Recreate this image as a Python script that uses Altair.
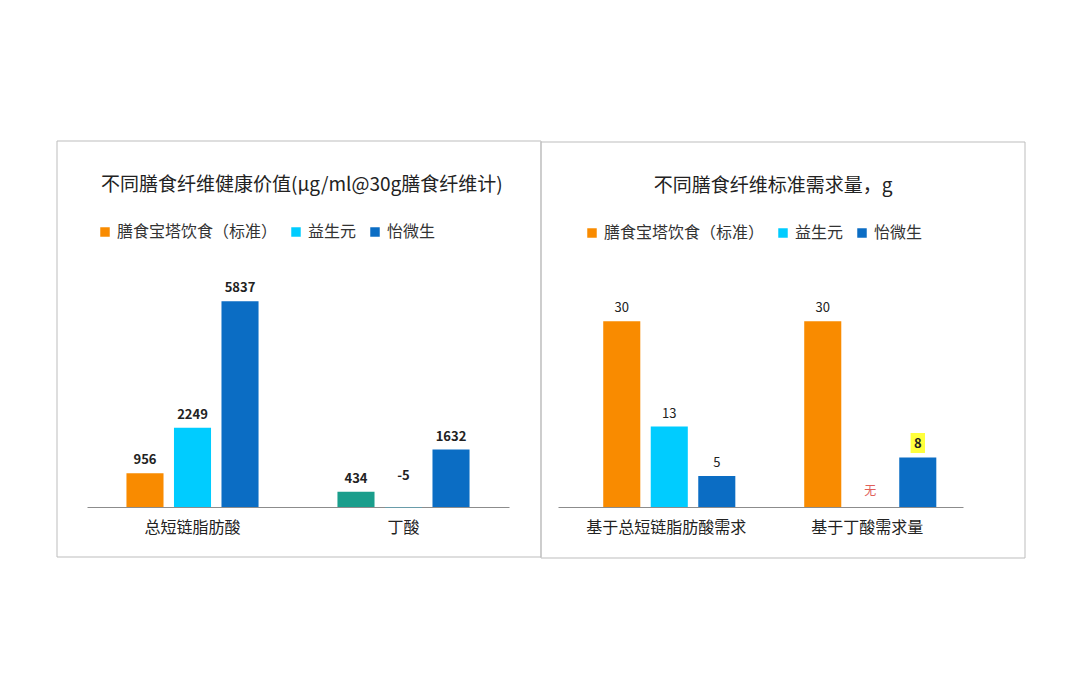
import pandas as pd
import altair as alt

FONT = 'Noto Sans CJK SC'

# series shared by both panels
series = ['膳食宝塔饮食（标准）', '益生元', '怡微生']
series_colors = ['#F98B00', '#00CCFF', '#0B6DC4']
teal_key = '丁酸（标准）'
teal = '#1A9E8C'

# left panel
left_title = '不同膳食纤维健康价值(μg/ml@30g膳食纤维计)'
left_groups = ['总短链脂肪酸', '丁酸']
left_values = [956, 2249, 5837, 434, -5, 1632]
left_labels = ['956', '2249', '5837', '434', '-5', '1632']
left_fill = ['膳食宝塔饮食（标准）', '益生元', '怡微生', teal_key, '益生元', '怡微生']

# right panel
right_title = '不同膳食纤维标准需求量，g'
right_groups = ['基于总短链脂肪酸需求', '基于丁酸需求量']
right_values = [30, 13, 5, 30, None, 8]
right_labels = ['30', '13', '5', '30', '无', '8']
right_fill = ['膳食宝塔饮食（标准）', '益生元', '怡微生', '膳食宝塔饮食（标准）', '益生元', '怡微生']
right_highlight = [False, False, False, False, False, True]


def make_df(groups, values, labels, fill, highlight=None):
    df = pd.DataFrame({
        'group': [g for g in groups for _ in series],
        'series': series * len(groups),
        'value': values,
        'label': labels,
        'fill': fill,
    })
    df['hl'] = highlight if highlight is not None else [False] * len(df)
    return df


def panel(df, groups, title, y_max, width, height, box, title_kw, legend_xy,
          label_weight, x_scale):
    x = alt.X('group:N', sort=groups, scale=x_scale,
              axis=alt.Axis(title=None, ticks=False, labelAngle=0, labelFontSize=16,
                            labelFont=FONT, labelColor='#222', labelPadding=12,
                            domainColor='#8C8C8C', domainWidth=1))
    xo = alt.XOffset('series:N', sort=series,
                     scale=alt.Scale(paddingInner=0.22, paddingOuter=0))
    y_scale = alt.Scale(domain=[0, y_max])
    ly = alt.Y('ly:Q', scale=y_scale, axis=None)

    base = alt.Chart(df).transform_calculate(
        ly='datum.value == null ? 0 : max(datum.value, 0)'
    )

    # panel frame
    border = alt.Chart(pd.DataFrame({'k': [0]})).mark_rect(
        filled=False, stroke='#BDBDBD', strokeWidth=1
    ).encode(x=alt.value(box[0]), x2=alt.value(box[1]),
             y=alt.value(box[2]), y2=alt.value(box[3]))

    bars = base.mark_bar().encode(
        x=x, xOffset=xo,
        y=alt.Y('value:Q', scale=y_scale, axis=None),
        color=alt.Color('fill:N',
                        scale=alt.Scale(domain=series + [teal_key], range=series_colors + [teal]),
                        legend=alt.Legend(values=series, title=None, orient='none',
                                          legendX=legend_xy[0], legendY=legend_xy[1],
                                          direction='horizontal', columns=3,
                                          symbolType='square', symbolSize=90,
                                          symbolStrokeWidth=0, labelFontSize=16,
                                          labelFont=FONT, labelColor='#333', labelLimit=0,
                                          labelOffset=4, columnPadding=10))
    )

    box_mark = base.transform_filter('datum.hl').mark_point(
        shape='M-0.72,-1H0.72V1H-0.72Z', size=400, filled=True,
        color='#FFFF3C', opacity=1, yOffset=-14.5
    ).encode(x=x, xOffset=xo, y=ly)

    labels = base.transform_filter('datum.value != null && datum.value >= 0 && !datum.hl').mark_text(
        baseline='bottom', dy=-6, fontSize=13, font=FONT, color='#222', fontWeight=label_weight
    ).encode(x=x, xOffset=xo, y=ly, text='label:N')

    hl_labels = base.transform_filter('datum.hl').mark_text(
        baseline='bottom', dy=-6, fontSize=13, font=FONT, color='#222', fontWeight='bold'
    ).encode(x=x, xOffset=xo, y=ly, text='label:N')

    neg_labels = base.transform_filter('datum.value != null && datum.value < 0').mark_text(
        baseline='bottom', dy=-24, fontSize=13, font=FONT, color='#222', fontWeight='bold'
    ).encode(x=x, xOffset=xo, y=ly, text='label:N')

    missing = base.transform_filter('datum.value == null').mark_text(
        baseline='bottom', dy=-9, fontSize=12, font=FONT, color='#E0605A'
    ).encode(x=x, xOffset=xo, y=ly, text='label:N')

    return alt.layer(border, bars, box_mark, labels, hl_labels, neg_labels, missing).properties(
        width=width, height=height,
        title=alt.TitleParams(title, fontSize=19, font=FONT, fontWeight='normal',
                              color='#222', frame='group', baseline='middle', **title_kw)
    )


df_left = make_df(left_groups, left_values, left_labels, left_fill)
df_right = make_df(right_groups, right_values, right_labels, right_fill, right_highlight)

left = panel(df_left, left_groups, left_title, 6500, 422, 229,
             box=(-30, 454, -137, 279),
             title_kw=dict(anchor='start', dx=14, offset=-63),
             legend_xy=(10, -54), label_weight='bold',
             x_scale=alt.Scale(paddingInner=0.374, paddingOuter=0.187))

right = panel(df_right, right_groups, right_title, 37, 405, 229,
              box=(-17, 467, -136, 280),
              title_kw=dict(anchor='middle', dx=12.5, offset=-63),
              legend_xy=(26, -53), label_weight='normal',
              x_scale=alt.Scale(paddingInner=0.373, paddingOuter=0.194, align=0.58))

chart = alt.hconcat(left, right, spacing=-2).resolve_scale(
    color='independent', x='independent', y='independent'
).resolve_legend(
    color='independent'
).configure_view(
    stroke=None
).properties(
    padding={'left': 48, 'top': 132, 'right': 0, 'bottom': 0},
    background='white'
)

chart.save('out.html', embed_options={'renderer': 'svg', 'actions': False})
